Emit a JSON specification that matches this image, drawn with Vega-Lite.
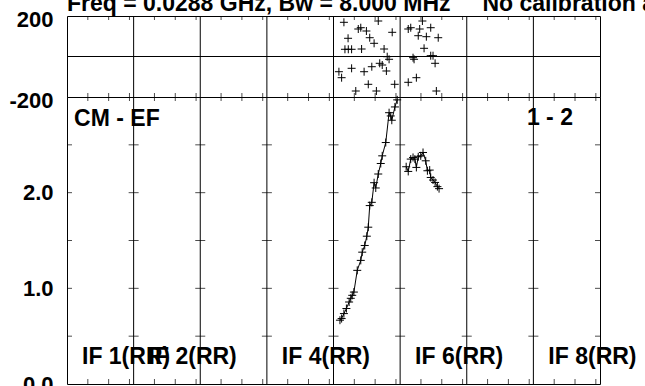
{
  "$schema": "https://vega.github.io/schema/vega-lite/v6.json",
  "padding": {"left": 8, "top": -8, "right": 0, "bottom": 0},
  "bounds": "flush",
  "title": {"text": "Freq = 0.0288 GHz, Bw = 8.000 MHz\u00a0\u00a0\u00a0\u00a0\u00a0No calibration applied", "anchor": "start", "frame": "group", "font": "Liberation Sans", "fontSize": 23, "fontWeight": "bold", "color": "black", "offset": -8},
  "spacing": 0,
  "config": {
    "view": {"stroke": "black", "strokeWidth": 1},
    "axisY": {"labelFont": "Liberation Sans", "labelFontSize": 22, "labelFontWeight": "bold", "labelColor": "black", "domain": false, "ticks": false, "grid": false, "labelPadding": 14, "minExtent": 50, "maxExtent": 50, "title": null},
    "text": {"font": "Liberation Sans", "fontSize": 23, "fontWeight": "bold", "color": "black", "align": "left", "baseline": "alphabetic"}
  },
  "datasets": {
    "panels": [{"b": 32}, {"b": 64}, {"b": 96}, {"b": 128}, {"b": 160}, {"b": 192}, {"b": 224}],
    "xticks": [{"t": 10}, {"t": 20}, {"t": 30}, {"t": 42}, {"t": 52}, {"t": 62}, {"t": 74}, {"t": 84}, {"t": 94}, {"t": 106}, {"t": 116}, {"t": 126}, {"t": 138}, {"t": 148}, {"t": 158}, {"t": 170}, {"t": 180}, {"t": 190}, {"t": 202}, {"t": 212}, {"t": 222}, {"t": 234}, {"t": 244}, {"t": 254}],
    "yticks": [
      {"b": 0, "v": 0.5}, {"b": 0, "v": 1}, {"b": 0, "v": 1.5}, {"b": 0, "v": 2}, {"b": 0, "v": 2.5},
      {"b": 32, "v": 0.5}, {"b": 32, "v": 1}, {"b": 32, "v": 1.5}, {"b": 32, "v": 2}, {"b": 32, "v": 2.5},
      {"b": 64, "v": 0.5}, {"b": 64, "v": 1}, {"b": 64, "v": 1.5}, {"b": 64, "v": 2}, {"b": 64, "v": 2.5},
      {"b": 96, "v": 0.5}, {"b": 96, "v": 1}, {"b": 96, "v": 1.5}, {"b": 96, "v": 2}, {"b": 96, "v": 2.5},
      {"b": 128, "v": 0.5}, {"b": 128, "v": 1}, {"b": 128, "v": 1.5}, {"b": 128, "v": 2}, {"b": 128, "v": 2.5},
      {"b": 160, "v": 0.5}, {"b": 160, "v": 1}, {"b": 160, "v": 1.5}, {"b": 160, "v": 2}, {"b": 160, "v": 2.5},
      {"b": 192, "v": 0.5}, {"b": 192, "v": 1}, {"b": 192, "v": 1.5}, {"b": 192, "v": 2}, {"b": 192, "v": 2.5},
      {"b": 224, "v": 0.5}, {"b": 224, "v": 1}, {"b": 224, "v": 1.5}, {"b": 224, "v": 2}, {"b": 224, "v": 2.5},
      {"b": 256, "v": 0.5}, {"b": 256, "v": 1}, {"b": 256, "v": 1.5}, {"b": 256, "v": 2}, {"b": 256, "v": 2.5}
    ],
    "phase": [
      {"ch": 133.0, "ph": 168.9}, {"ch": 149.5, "ph": 175.3}, {"ch": 139.9, "ph": 135.8}, {"ch": 141.1, "ph": 142.2},
      {"ch": 143.8, "ph": 125.9}, {"ch": 156.2, "ph": 119.5}, {"ch": 135.0, "ph": 89.9}, {"ch": 145.4, "ph": 92.8},
      {"ch": 147.5, "ph": 65.2}, {"ch": 133.5, "ph": 35.6}, {"ch": 135.1, "ph": 35.6}, {"ch": 136.7, "ph": 35.6},
      {"ch": 141.5, "ph": 37.0}, {"ch": 152.3, "ph": 37.0}, {"ch": 153.8, "ph": -1.0}, {"ch": 154.7, "ph": -13.8},
      {"ch": 130.6, "ph": -75.1}, {"ch": 131.9, "ph": -104.7}, {"ch": 136.7, "ph": -58.3}, {"ch": 142.7, "ph": -75.1},
      {"ch": 146.4, "ph": -50.4}, {"ch": 150.2, "ph": -33.6}, {"ch": 151.4, "ph": -42.0}, {"ch": 153.4, "ph": -71.6},
      {"ch": 144.7, "ph": -137.3}, {"ch": 138.7, "ph": -170.4}, {"ch": 148.6, "ph": -170.4}, {"ch": 157.4, "ph": -137.3},
      {"ch": 170.7, "ph": 175.3}, {"ch": 163.9, "ph": 135.8}, {"ch": 165.1, "ph": 142.2}, {"ch": 169.4, "ph": 135.8},
      {"ch": 174.7, "ph": 142.2}, {"ch": 168.7, "ph": 102.7}, {"ch": 172.6, "ph": 97.8}, {"ch": 178.3, "ph": 92.8},
      {"ch": 171.5, "ph": 40.5}, {"ch": 174.7, "ph": 4.0}, {"ch": 175.8, "ph": 4.0}, {"ch": 166.2, "ph": -5.9},
      {"ch": 166.7, "ph": -13.8}, {"ch": 176.8, "ph": -33.6}, {"ch": 167.8, "ph": -104.7}, {"ch": 163.9, "ph": -127.4},
      {"ch": 177.4, "ph": -170.4}
    ],
    "amp": [
      {"ifn": 5, "ch": 131.1, "amp": 0.667}, {"ifn": 5, "ch": 131.9, "amp": 0.684}, {"ifn": 5, "ch": 133.0, "amp": 0.736},
      {"ifn": 5, "ch": 134.2, "amp": 0.789}, {"ifn": 5, "ch": 135.5, "amp": 0.857}, {"ifn": 5, "ch": 136.3, "amp": 0.896},
      {"ifn": 5, "ch": 137.0, "amp": 0.927}, {"ifn": 5, "ch": 137.8, "amp": 0.961}, {"ifn": 5, "ch": 139.4, "amp": 1.188},
      {"ifn": 5, "ch": 141.1, "amp": 1.292}, {"ifn": 5, "ch": 141.8, "amp": 1.378}, {"ifn": 5, "ch": 143.0, "amp": 1.448},
      {"ifn": 5, "ch": 144.0, "amp": 1.545}, {"ifn": 5, "ch": 144.7, "amp": 1.639}, {"ifn": 5, "ch": 145.4, "amp": 1.865},
      {"ifn": 5, "ch": 146.4, "amp": 1.899}, {"ifn": 5, "ch": 147.5, "amp": 2.104}, {"ifn": 5, "ch": 148.3, "amp": 2.049},
      {"ifn": 5, "ch": 149.5, "amp": 2.195}, {"ifn": 5, "ch": 150.7, "amp": 2.305}, {"ifn": 5, "ch": 151.4, "amp": 2.385},
      {"ifn": 5, "ch": 153.1, "amp": 2.524}, {"ifn": 5, "ch": 154.7, "amp": 2.836}, {"ifn": 5, "ch": 155.5, "amp": 2.802},
      {"ifn": 5, "ch": 156.0, "amp": 2.757}, {"ifn": 5, "ch": 157.5, "amp": 2.896}, {"ifn": 5, "ch": 158.6, "amp": 2.97},
      {"ifn": 6, "ch": 162.9, "amp": 2.271}, {"ifn": 6, "ch": 163.9, "amp": 2.222}, {"ifn": 6, "ch": 165.1, "amp": 2.351},
      {"ifn": 6, "ch": 166.2, "amp": 2.368}, {"ifn": 6, "ch": 167.1, "amp": 2.351}, {"ifn": 6, "ch": 167.8, "amp": 2.264},
      {"ifn": 6, "ch": 168.7, "amp": 2.375}, {"ifn": 6, "ch": 169.9, "amp": 2.385}, {"ifn": 6, "ch": 171.0, "amp": 2.420},
      {"ifn": 6, "ch": 172.3, "amp": 2.333}, {"ifn": 6, "ch": 173.1, "amp": 2.229}, {"ifn": 6, "ch": 174.2, "amp": 2.236},
      {"ifn": 6, "ch": 174.7, "amp": 2.159}, {"ifn": 6, "ch": 175.8, "amp": 2.132}, {"ifn": 6, "ch": 176.8, "amp": 2.107},
      {"ifn": 6, "ch": 177.9, "amp": 2.063}, {"ifn": 6, "ch": 178.7, "amp": 2.042}
    ],
    "labels": [
      {"ch": 3.4, "y": 2.698, "txt": "CM - EF"},
      {"ch": 220.9, "y": 2.708, "txt": "1 - 2"},
      {"ch": 7.2, "y": 0.208, "txt": "IF 1(RR)"},
      {"ch": 39.2, "y": 0.208, "txt": "IF 2(RR)"},
      {"ch": 103.2, "y": 0.208, "txt": "IF 4(RR)"},
      {"ch": 167.2, "y": 0.208, "txt": "IF 6(RR)"},
      {"ch": 231.2, "y": 0.208, "txt": "IF 8(RR)"}
    ]
  },
  "vconcat": [
    {
      "width": 533,
      "height": 81,
      "layer": [
        {
          "data": {"name": "panels"},
          "mark": {"type": "rule", "color": "black", "strokeWidth": 1},
          "encoding": {
            "x": {"field": "b", "type": "quantitative", "scale": {"domain": [0, 256], "nice": false, "zero": false}, "axis": null}
          }
        },
        {
          "data": {"values": [{"z": 0}]},
          "mark": {"type": "rule", "color": "black", "strokeWidth": 1},
          "encoding": {
            "y": {"field": "z", "type": "quantitative", "scale": {"domain": [-200, 200], "nice": false, "zero": false}, "axis": {"values": [-200, 200], "labelExpr": "'' + datum.value", "labelOffset": 3}}
          }
        },
        {
          "data": {"name": "xticks"},
          "mark": {"type": "tick", "orient": "vertical", "size": 8, "thickness": 1, "color": "black", "clip": true},
          "encoding": {
            "x": {"field": "t", "type": "quantitative"},
            "y": {"datum": 200, "type": "quantitative"}
          }
        },
        {
          "data": {"name": "xticks"},
          "mark": {"type": "tick", "orient": "vertical", "size": 8, "thickness": 1, "color": "black", "clip": true},
          "encoding": {
            "x": {"field": "t", "type": "quantitative"},
            "y": {"datum": -200, "type": "quantitative"}
          }
        },
        {
          "data": {"name": "phase"},
          "mark": {"type": "point", "shape": "M-1,0L1,0M0,-1L0,1", "size": 64, "filled": false, "stroke": "black", "strokeWidth": 1, "opacity": 1},
          "encoding": {
            "x": {"field": "ch", "type": "quantitative"},
            "y": {"field": "ph", "type": "quantitative"}
          }
        }
      ]
    },
    {
      "width": 533,
      "height": 287,
      "layer": [
        {
          "data": {"name": "panels"},
          "mark": {"type": "rule", "color": "black", "strokeWidth": 1},
          "encoding": {
            "x": {"field": "b", "type": "quantitative", "scale": {"domain": [0, 256], "nice": false, "zero": false}, "axis": null}
          }
        },
        {
          "data": {"name": "yticks"},
          "mark": {"type": "tick", "orient": "horizontal", "size": 10, "thickness": 1, "color": "black", "clip": true},
          "encoding": {
            "x": {"field": "b", "type": "quantitative"},
            "y": {"field": "v", "type": "quantitative", "scale": {"domain": [0, 3], "nice": false, "zero": false}, "axis": {"values": [0, 1, 2], "format": ".1f"}}
          }
        },
        {
          "data": {"name": "xticks"},
          "mark": {"type": "tick", "orient": "vertical", "size": 8, "thickness": 1, "color": "black", "clip": true},
          "encoding": {
            "x": {"field": "t", "type": "quantitative"},
            "y": {"datum": 3, "type": "quantitative"}
          }
        },
        {
          "data": {"name": "xticks"},
          "mark": {"type": "tick", "orient": "vertical", "size": 10, "thickness": 1, "color": "black", "clip": true},
          "encoding": {
            "x": {"field": "t", "type": "quantitative"},
            "y": {"datum": 0, "type": "quantitative"}
          }
        },
        {
          "data": {"name": "amp"},
          "mark": {"type": "line", "color": "black", "strokeWidth": 1},
          "encoding": {
            "x": {"field": "ch", "type": "quantitative"},
            "y": {"field": "amp", "type": "quantitative"},
            "detail": {"field": "ifn", "type": "nominal"}
          }
        },
        {
          "data": {"name": "amp"},
          "mark": {"type": "point", "shape": "M-1,0L1,0M0,-1L0,1", "size": 64, "filled": false, "stroke": "black", "strokeWidth": 1, "opacity": 1},
          "encoding": {
            "x": {"field": "ch", "type": "quantitative"},
            "y": {"field": "amp", "type": "quantitative"}
          }
        },
        {
          "data": {"name": "labels"},
          "mark": {"type": "text"},
          "encoding": {
            "x": {"field": "ch", "type": "quantitative"},
            "y": {"field": "y", "type": "quantitative"},
            "text": {"field": "txt"}
          }
        }
      ]
    }
  ]
}
